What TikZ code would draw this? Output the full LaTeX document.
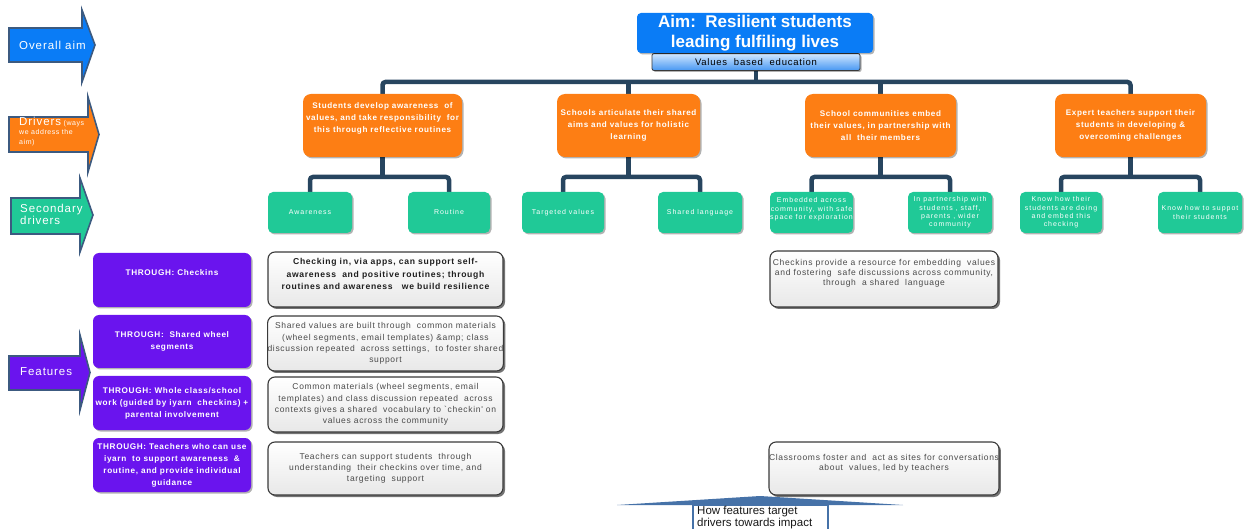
\documentclass[tikz,border=0pt]{standalone}
\usepackage{fontspec}
\setmainfont{Liberation Sans}
\newfontfamily\widesans[LetterSpace=8]{Liberation Sans}
\newfontfamily\xwidesans[LetterSpace=14]{Liberation Sans}
\usetikzlibrary{shadows,backgrounds}

\definecolor{aimblue}{HTML}{0A7CF6}
\definecolor{drvorange}{HTML}{FD7E14}
\definecolor{secteal}{HTML}{20C997}
\definecolor{featpurple}{HTML}{6A14EE}
\definecolor{treeline}{HTML}{27455F}
\definecolor{arrowedge}{HTML}{3C5A80}
\definecolor{boxedge}{HTML}{3A3A3A}
\definecolor{greytext}{HTML}{4A4A4A}
\definecolor{valtop}{HTML}{D2E8FF}
\definecolor{valbottom}{HTML}{4797F2}
\definecolor{headblue}{HTML}{4672A8}

\tikzset{
  sz/.style 2 args={minimum width=#1pt, minimum height=#2pt, inner sep=0pt},
  lift/.style={text depth=#1},
  shad/.style={drop shadow={shadow xshift=1.5pt, shadow yshift=-1.5pt, opacity=0.3, fill=black}},
  darkshad/.style={drop shadow={shadow xshift=2pt, shadow yshift=-2pt, opacity=0.55, fill=black}},
  rowarrow/.style={draw=arrowedge, line width=1.6pt, line join=miter},
  arrowtext/.style={text=white, inner sep=0pt, align=left},
  aimbox/.style={rounded corners=4pt, fill=aimblue, text=white, align=center,
    font=\fontsize{17}{20}\selectfont\bfseries, shad},
  valbox/.style={rounded corners=2pt, draw=boxedge, line width=0.8pt,
    top color=valtop, bottom color=valbottom, font=\widesans\fontsize{9.5}{10}\selectfont, shad},
  drvbox/.style={rounded corners=8pt, fill=drvorange, text=white, align=center,
    font=\widesans\fontsize{8.1}{11.8}\selectfont\bfseries, shad},
  secbox/.style={rounded corners=5pt, fill=secteal, text=white, align=center,
    font=\xwidesans\fontsize{7}{8.3}\selectfont, shad},
  featbox/.style={rounded corners=6pt, fill=featpurple, text=white, align=center,
    font=\widesans\fontsize{8.2}{12}\selectfont\bfseries, shad},
  descbox/.style={rounded corners=7pt, draw=boxedge, line width=1.1pt,
    top color=white, bottom color=black!9, text=greytext, align=center,
    font=\widesans\fontsize{8.5}{11.3}\selectfont, darkshad},
  tree/.style={draw=treeline, line width=4.5pt, rounded corners=3pt},
}

\begin{document}
\begin{tikzpicture}[x=1pt, y=-1pt]
\useasboundingbox (0,0) rectangle (1251,529);
\clip (0,0) rectangle (1251,529);

% row labels on the left
\draw[rowarrow, fill=aimblue]
  (9,28) -- (82,28) -- (82,10) -- (95,45) -- (82,82) -- (82,62) -- (9,62) -- cycle;
\node[arrowtext, anchor=west, font=\widesans\fontsize{11.5}{12}\selectfont] (lblaim) at (19,45) {Overall aim};

\draw[rowarrow, fill=drvorange]
  (9,117) -- (88,117) -- (88,97) -- (99,134.5) -- (88,172) -- (88,152) -- (9,152) -- cycle;
\node[arrowtext, anchor=north west, font=\widesans\fontsize{7}{9.3}\selectfont] (lbldrv) at (19,117)
  {{\fontsize{11.5}{9.3}\selectfont Drivers} (ways\\we address the\\aim)};

\draw[rowarrow, fill=secteal]
  (11,198) -- (80,198) -- (80,178) -- (93,215) -- (80,252) -- (80,234) -- (11,234) -- cycle;
\node[arrowtext, anchor=north west, font=\widesans\fontsize{11.5}{9}\selectfont] (lblsec) at (20,204)
  {Secondary\\drivers};

\draw[rowarrow, fill=featpurple]
  (9,356) -- (80,356) -- (80,335) -- (90,372.5) -- (80,410) -- (80,390) -- (9,390) -- cycle;
\node[arrowtext, anchor=west, font=\widesans\fontsize{11.5}{12}\selectfont] (lblfeat) at (20,372) {Features};

% aim
\node[valbox, sz={208}{17}] (vals) at (756,62) {Values\ \ based\ \ education};
\node[aimbox, sz={236}{40}] (aim) at (755,33) {Aim:\ \ Resilient students\\leading fulfiling lives};

% primary drivers
\node[drvbox, sz={159}{63}, lift=16pt] (d1) at (382.5,125.5)
  {Students develop awareness\ \ of\\values, and take responsibility\ \ for\\this through reflective routines};
\node[drvbox, sz={143}{63}] (d2) at (628.5,125.5)
  {Schools articulate their shared\\aims and values for holistic\\learning};
\node[drvbox, sz={151}{63}] (d3) at (880.5,125.5)
  {School communities embed\\their values, in partnership with\\all\ \ their members};
\node[drvbox, sz={151}{63}] (d4) at (1130.5,125.5)
  {Expert teachers support their\\students in developing \&\\overcoming challenges};

% secondary drivers
\node[secbox, sz={84}{41}] (s1) at (310,212.5) {Awareness};
\node[secbox, sz={82}{41}] (s2) at (449,212.5) {Routine};
\node[secbox, sz={82}{41}] (s3) at (563,212.5) {Targeted values};
\node[secbox, sz={84}{41}] (s4) at (700,212.5) {Shared language};
\node[secbox, sz={83}{41}, lift=8pt] (s5) at (811.5,212.5) {Embedded across\\community, with safe\\space for exploration};
\node[secbox, sz={84}{41}] (s6) at (950,212.5) {In partnership with\\students , staff,\\parents , wider\\community};
\node[secbox, sz={82}{41}] (s7) at (1061,212.5) {Know how their\\students are doing\\and embed this\\checking};
\node[secbox, sz={84}{41}] (s8) at (1200,212.5) {Know how to suppot\\their students};

% features
\node[featbox, sz={158}{54}, lift=14pt] (f1) at (172,280) {THROUGH: Checkins};
\node[featbox, sz={158}{53}] (f2) at (172,341.5) {THROUGH:\ \ Shared wheel\\segments};
\node[featbox, sz={158}{54}] (f3) at (172,403) {THROUGH: Whole class/school\\work (guided by iyarn\ \ checkins) +\\parental involvement};
\node[featbox, sz={158}{54}] (f4) at (172,465) {THROUGH: Teachers who can use\\iyarn\ \ to support awareness\ \ \&\\routine, and provide individual\\guidance};

% how each feature works
\node[descbox, sz={235}{55}, lift=11pt, text=black!88, font=\widesans\fontsize{8.6}{12.8}\selectfont\bfseries] (e1) at (385.5,279.5)
  {Checking in, via apps, can support self-\\awareness\ \ and positive routines; through\\routines and awareness\ \ \ we build resilience};
\node[descbox, sz={235}{55}] (e2) at (385.5,343.5)
  {Shared values are built through\ \ common materials\\(wheel segments, email templates) \&amp; class\\discussion repeated\ \ across settings,\ \ to foster shared\\support};
\node[descbox, sz={235}{55}] (e3) at (385.5,404.5)
  {Common materials (wheel segments, email\\templates) and class discussion repeated\ \ across\\contexts gives a shared\ \ vocabulary to `checkin' on\\values across the community};
\node[descbox, sz={235}{53}] (e4) at (385.5,468.5)
  {Teachers can support students\ \ through\\understanding\ \ their checkins over time, and\\targeting\ \ support};
\node[descbox, sz={228}{56}, lift=13pt, font=\widesans\fontsize{8.5}{10}\selectfont] (r1) at (884,279)
  {Checkins provide a resource for embedding\ \ values\\and fostering\ \ safe discussions across community,\\through\ \ a shared\ \ language};
\node[descbox, sz={228}{53}, lift=12pt, font=\widesans\fontsize{8.5}{10}\selectfont] (r2) at (884,468.5)
  {Classrooms foster and\ \ act as sites for conversations\\about\ \ values, led by teachers};

% connectors of the driver tree
\coordinate (bar) at (755,82);
\coordinate (sbar) at (0,177);
\begin{scope}[on background layer]
  \draw[tree] (d1.north) -- (d1.north |- bar) -- (d4.north |- bar) -- (d4.north);
  \draw[tree] (vals.south) -- (vals.south |- bar);
  \draw[tree] (d2.north) -- (d2.north |- bar);
  \draw[tree] (d3.north) -- (d3.north |- bar);
  \draw[tree] (s1.north) -- (s1.north |- sbar) -- (s2.north |- sbar) -- (s2.north);
  \draw[tree] (s3.north) -- (s3.north |- sbar) -- (s4.north |- sbar) -- (s4.north);
  \draw[tree] (s5.north) -- (s5.north |- sbar) -- (s6.north |- sbar) -- (s6.north);
  \draw[tree] (s7.north) -- (s7.north |- sbar) -- (s8.north |- sbar) -- (s8.north);
  \draw[tree] (d1.south) -- (d1.south |- sbar);
  \draw[tree] (d2.south) -- (d2.south |- sbar);
  \draw[tree] (d3.south) -- (d3.south |- sbar);
  \draw[tree] (d4.south) -- (d4.south |- sbar);
\end{scope}

% upward arrow at the bottom
\fill[headblue] (617,505) -- (760,496) -- (903,505) -- cycle;
\draw[headblue, line width=1.5pt, fill=white] (693,505) -- (693,540) -- (828,540) -- (828,505) -- cycle;
\node[anchor=north west, inner sep=0pt, align=left, font=\fontsize{11.5}{8.5}\selectfont, text=black!90] (impact) at (697,506)
  {How features target\\drivers towards impact};
\end{tikzpicture}
\end{document}
